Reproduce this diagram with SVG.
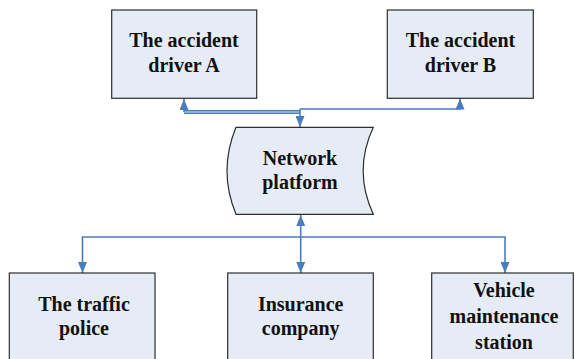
<svg xmlns="http://www.w3.org/2000/svg" width="575" height="359" viewBox="0 0 575 359">
  <defs>
    <style>
      .box { fill: #e6ecf6; stroke: #2e2e2e; stroke-width: 1.2; }
      .label { font-family: 'Liberation Serif', 'Times New Roman', Times, 'DejaVu Serif', serif; font-weight: 700; font-size: 20px; fill: #111; text-anchor: middle; }
      .conn { fill: none; stroke: #4a7ebb; stroke-width: 1.6; }
    </style>
    <marker id="arrow" viewBox="0 0 11 9" refX="11" refY="4.5" markerWidth="11" markerHeight="9" markerUnits="userSpaceOnUse" orient="auto-start-reverse">
      <path d="M0,0 L11,4.5 L0,9 z" fill="#4a7ebb"/>
    </marker>
  </defs>

  <rect width="575" height="359" fill="#ffffff"/>

  <!-- connectors -->
  <g id="connectors">
    <!-- driver A link (double-stroked bar) -->
    <path d="M184,112 H300" fill="none" stroke="#4a7ebb" stroke-width="4"/>
    <path d="M184,112 H300" fill="none" stroke="#a4bfe3" stroke-width="1.6"/>
    <path class="conn" d="M184,112 V99" marker-end="url(#arrow)"/>
    <!-- driver B link -->
    <path class="conn" d="M300,109 H460 V98.5" marker-end="url(#arrow)"/>
    <!-- down into platform -->
    <path class="conn" d="M300,109 V127" marker-end="url(#arrow)"/>
    <!-- platform to service parties -->
    <path class="conn" d="M300.7,215 V273" marker-start="url(#arrow)" marker-end="url(#arrow)"/>
    <path class="conn" d="M82.5,273 V237 H505 V273" marker-start="url(#arrow)" marker-end="url(#arrow)"/>
  </g>

  <g id="driverA">
    <rect class="box" x="111.7" y="10" width="145" height="88.3"/>
    <text class="label" x="184" y="46.7">The accident</text>
    <text class="label" x="184" y="71.7">driver A</text>
  </g>

  <g id="driverB">
    <rect class="box" x="387.3" y="10" width="146" height="88.3"/>
    <text class="label" x="460.5" y="46.7">The accident</text>
    <text class="label" x="460.5" y="71.7">driver B</text>
  </g>

  <g id="platform">
    <path class="box" d="M236,127.3 H373.3 Q353,170.8 373.3,214.3 H236 Q218,170.8 236,127.3 Z"/>
    <text class="label" x="300" y="165">Network</text>
    <text class="label" x="300" y="188.5">platform</text>
  </g>

  <g id="police">
    <rect class="box" x="9.3" y="273" width="145.7" height="95"/>
    <text class="label" x="84" y="310.7">The traffic</text>
    <text class="label" x="84" y="335">police</text>
  </g>

  <g id="insurance">
    <rect class="box" x="227.7" y="273" width="145.6" height="95"/>
    <text class="label" x="300.7" y="310.7">Insurance</text>
    <text class="label" x="300.7" y="335">company</text>
  </g>

  <g id="maintenance">
    <rect class="box" x="431.7" y="273" width="141.6" height="95"/>
    <text class="label" x="504" y="297.3">Vehicle</text>
    <text class="label" x="504" y="323.3">maintenance</text>
    <text class="label" x="504" y="349.3">station</text>
  </g>
</svg>
